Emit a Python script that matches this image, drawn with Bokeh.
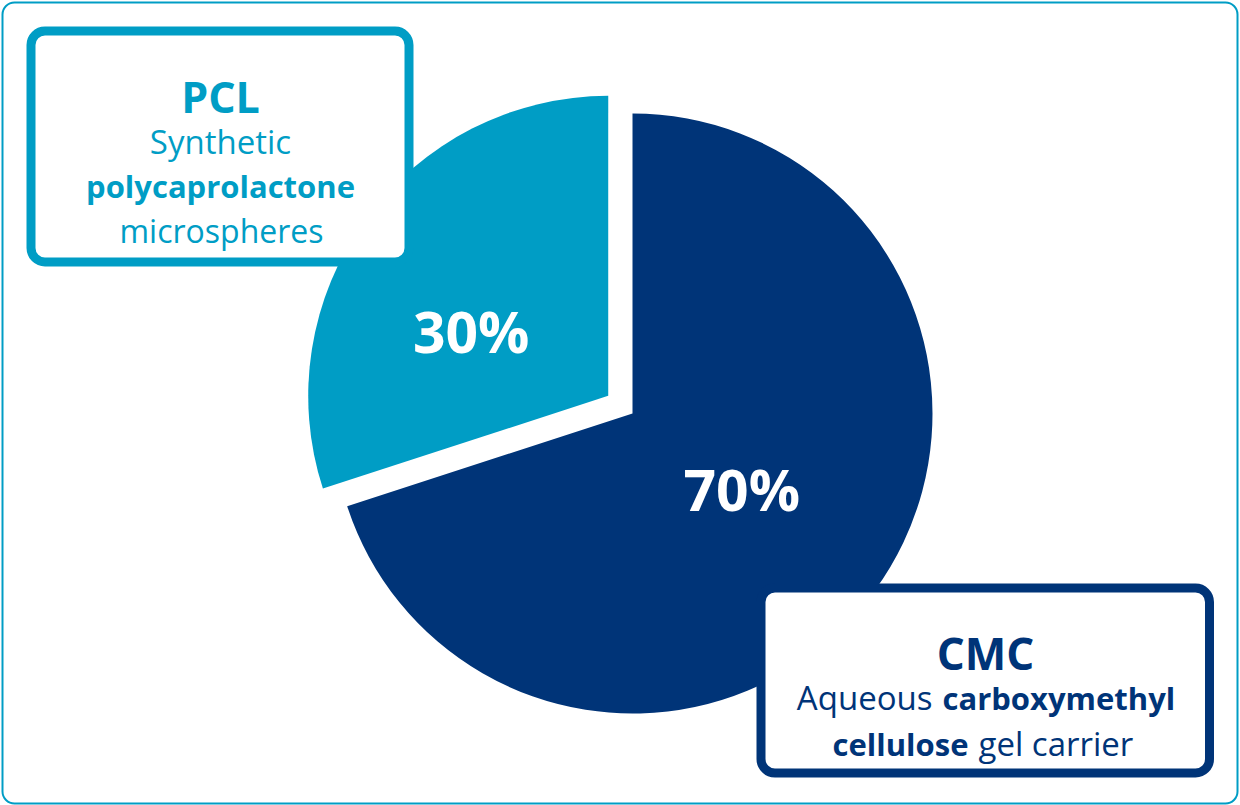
import numpy as np
from bokeh.plotting import figure
from bokeh.models import Range1d, BoxAnnotation, ColumnDataSource
from bokeh.core.properties import value
from bokeh.embed import file_html
from bokeh.resources import INLINE

# ---- data ----
categories = ["CMC", "PCL"]
shares = [70, 30]
pct_labels = ["70%", "30%"]
colors = ["#003478", "#009DC5"]

# ---- layout (pixel-like data coordinates, y measured upward) ----
W, H = 1240, 805
PAGE_H = 805
def Y(screen_y):
    return PAGE_H - screen_y

p = figure(width=W, height=H, x_range=Range1d(0, W), y_range=Range1d(0, H),
           output_backend="svg", toolbar_location=None, min_border=0)
p.axis.visible = False
p.grid.visible = False
p.outline_line_color = None
p.background_fill_color = "white"
p.border_fill_color = "white"

FONT = value("Open Sans")
LIGHT, DARK = colors[1], colors[0]

# pie geometry
cx, cy, R = 632, Y(413), 300
explode = [0, 30]
lab_r = [0.45, 0.50]
lab_da = [0, 12]

frac = np.array(shares, dtype=float) / sum(shares)
cum = np.cumsum(frac)
start = np.radians(90 - 360 * cum)
end = np.radians(90 - 360 * (cum - frac))
mid = (start + end) / 2
xs = cx + np.array(explode) * np.cos(mid)
ys = cy + np.array(explode) * np.sin(mid)

src = ColumnDataSource(dict(x=xs, y=ys, start=start, end=end, color=colors, cat=categories))
p.wedge(x="x", y="y", radius=R, start_angle="start", end_angle="end",
        fill_color="color", line_color=None, source=src)

lang = mid + np.radians(lab_da)
lx = xs + np.array(lab_r) * R * np.cos(lang)
ly = ys + np.array(lab_r) * R * np.sin(lang) + 4
r = p.text(x=lx, y=ly, text=pct_labels, text_font=FONT, text_font_size="57px",
           text_font_style="bold", text_color="white", text_align="center",
           text_baseline="middle")
r.level = "overlay"

# outer frame
p.add_layout(BoxAnnotation(left=2, right=1237, bottom=Y(803), top=Y(2), fill_alpha=0,
                           line_color=LIGHT, line_alpha=1, line_width=2, border_radius=12))

# callout boxes
p.add_layout(BoxAnnotation(left=30.5, right=408.5, bottom=Y(261.5), top=Y(30.5),
                           fill_color="white", fill_alpha=1, line_color=LIGHT, line_alpha=1,
                           line_width=9, border_radius=14))
p.add_layout(BoxAnnotation(left=760.5, right=1209, bottom=Y(772.5), top=Y(587.5),
                           fill_color="white", fill_alpha=1, line_color=DARK, line_alpha=1,
                           line_width=9, border_radius=14))

def txt(x, y, s, size, style, color, align="center"):
    rr = p.text(x=[x], y=[Y(y)], text=[s], text_font=FONT, text_font_size=size,
                text_font_style=style, text_color=color, text_align=align,
                text_baseline="alphabetic")
    rr.level = "overlay"

# PCL callout
txt(220, 96, "PCL", "43px", "bold", LIGHT)
txt(220, 141, "Synthetic", "33px", "normal", LIGHT)
txt(220, 185, "polycaprolactone", "31px", "bold", LIGHT)
txt(221, 230, "microspheres", "32px", "normal", LIGHT)

# CMC callout
txt(985, 652, "CMC", "44px", "bold", DARK)
txt(932, 697, "Aqueous", "33px", "normal", DARK, "right")
txt(942, 697, "carboxymethyl", "31px", "bold", DARK, "left")
txt(968, 743, "cellulose", "31px", "bold", DARK, "right")
txt(978, 743, "gel carrier", "33px", "normal", DARK, "left")

open("out.html", "w").write(file_html(p, INLINE))
